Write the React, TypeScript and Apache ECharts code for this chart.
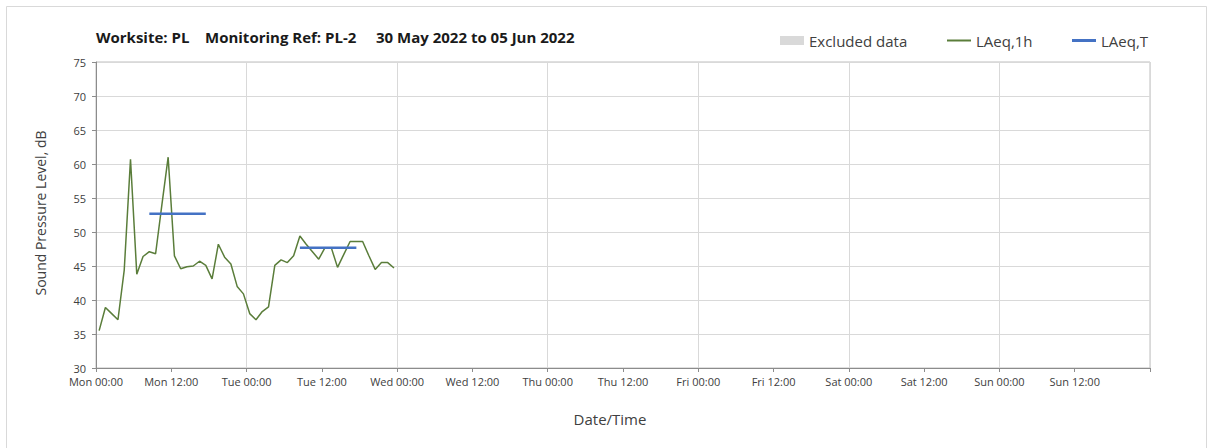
import React, { useEffect, useRef } from 'react';
import * as echarts from 'echarts';

// ---- Data ----
const dayNames = ['Mon', 'Tue', 'Wed', 'Thu', 'Fri', 'Sat', 'Sun'];
const titleParts = ['Worksite: PL', 'Monitoring Ref: PL-2', '30 May 2022 to 05 Jun 2022'];
const legendNames = ['Excluded data', 'LAeq,1h', 'LAeq,T'];
const yAxisTitle = 'Sound Pressure Level, dB';
const xAxisTitle = 'Date/Time';

// hourly LAeq,1h values from Mon 00:00, plotted at the middle of each hour
const laeq1h = [
  35.5, 38.9, 38.0, 37.1, 44.4, 60.7, 43.8, 46.4, 47.1, 46.8, 54.0, 61.0,
  46.5, 44.6, 44.9, 45.0, 45.7, 45.1, 43.1, 48.2, 46.3, 45.3, 42.0, 40.9,
  38.0, 37.1, 38.3, 39.0, 45.1, 45.9, 45.5, 46.5, 49.4, 48.2, 47.1, 46.0,
  47.7, 47.7, 44.8, 46.7, 48.6, 48.6, 48.6, 46.5, 44.5, 45.5, 45.5, 44.7,
];
// LAeq,T periods (hours since Mon 00:00)
const laeqTStart = [8.5, 32.5];
const laeqTEnd = [17.5, 41.5];
const laeqTValue = [52.7, 47.7];

const FONT = 'Open Sans';

export default function App() {
  const ref = useRef<HTMLDivElement>(null);

  useEffect(() => {
    document.body.style.margin = '0';
    if (!ref.current) return;
    const chart = echarts.init(ref.current, undefined, { renderer: 'svg' });

    const lineData = laeq1h.map((v, i) => [i + 0.5, v]);
    const tData: any[] = [];
    laeqTValue.forEach((v, i) => {
      if (i > 0) tData.push([laeqTStart[i] - 1, '-']);
      tData.push([laeqTStart[i], v]);
      tData.push([laeqTEnd[i], v]);
    });

    const axisGrey = '#8c8c8c';
    const gridGrey = '#d9d9d9';
    const labelColor = '#404040';

    const legendBase = {
      orient: 'horizontal',
      top: 28,
      itemWidth: 24,
      selectedMode: false,
      textStyle: { fontFamily: FONT, fontSize: 15, color: '#404040' },
    };

    const titleStyle = {
      fontFamily: FONT,
      fontSize: 15,
      fontWeight: 'bold',
      fill: '#1a1a1a',
      verticalAlign: 'middle',
      align: 'left',
    };

    chart.setOption({
      animation: false,
      backgroundColor: '#ffffff',
      textStyle: { fontFamily: FONT },
      grid: {
        left: 96,
        top: 62,
        width: 1054,
        height: 306,
        show: true,
        borderColor: '#bfbfbf',
        borderWidth: 1,
      },
      legend: [
        {
          ...legendBase,
          left: 775,
          itemHeight: 9,
          data: [{ name: legendNames[0], icon: 'rect' }],
        },
        {
          ...legendBase,
          left: 942,
          itemHeight: 2,
          data: [{ name: legendNames[1], icon: 'rect' }],
        },
        {
          ...legendBase,
          left: 1067,
          itemHeight: 3,
          data: [{ name: legendNames[2], icon: 'rect' }],
        },
      ],
      xAxis: [
        {
          type: 'value',
          min: 0,
          max: 168,
          interval: 12,
          axisLine: { show: true, lineStyle: { color: axisGrey, width: 1 } },
          axisTick: { show: true, length: 4, lineStyle: { color: axisGrey } },
          axisLabel: {
            fontFamily: FONT,
            fontSize: 11,
            color: labelColor,
            margin: 8,
            formatter: (v: number) => {
              if (v >= 168) return '';
              const d = dayNames[Math.floor(v / 24)];
              const h = v % 24 === 0 ? '00' : '12';
              return `${d} ${h}:00`;
            },
          },
          splitLine: { show: false },
        },
        {
          type: 'value',
          min: 0,
          max: 168,
          interval: 24,
          position: 'bottom',
          axisLine: { show: false },
          axisTick: { show: false },
          axisLabel: { show: false },
          splitLine: { show: true, lineStyle: { color: gridGrey, width: 1 } },
        },
      ],
      yAxis: {
        type: 'value',
        min: 30,
        max: 75,
        interval: 5,
        axisLine: { show: true, lineStyle: { color: axisGrey, width: 1 } },
        axisTick: { show: true, length: 4, lineStyle: { color: axisGrey } },
        axisLabel: { fontFamily: FONT, fontSize: 11, color: labelColor, margin: 10 },
        splitLine: { show: true, lineStyle: { color: gridGrey, width: 1 } },
      },
      series: [
        {
          name: legendNames[0],
          type: 'bar',
          xAxisIndex: 0,
          data: [],
          color: '#d9d9d9',
          itemStyle: { color: '#d9d9d9' },
        },
        {
          name: legendNames[1],
          type: 'line',
          xAxisIndex: 0,
          data: lineData,
          color: '#5a7d3a',
          symbol: 'none',
          lineStyle: { color: '#5a7d3a', width: 1.5 },
          z: 3,
        },
        {
          name: legendNames[2],
          type: 'line',
          xAxisIndex: 0,
          data: tData,
          color: '#4472c4',
          symbol: 'none',
          connectNulls: false,
          lineStyle: { color: '#4472c4', width: 2.5 },
          z: 4,
        },
      ],
      graphic: [
        {
          type: 'rect',
          shape: { x: 6.5, y: 6.5, width: 1200, height: 460 },
          style: { fill: 'none', stroke: '#d9d9d9', lineWidth: 1 },
          silent: true,
        },
        { type: 'text', x: 96, y: 37, style: { ...titleStyle, text: titleParts[0] } },
        { type: 'text', x: 205, y: 37, style: { ...titleStyle, text: titleParts[1] } },
        { type: 'text', x: 376, y: 37, style: { ...titleStyle, text: titleParts[2] } },
        {
          type: 'text',
          x: 40,
          y: 213,
          rotation: Math.PI / 2,
          style: {
            text: yAxisTitle,
            fontFamily: FONT,
            fontSize: 14,
            fill: '#404040',
            align: 'center',
            verticalAlign: 'middle',
          },
        },
        {
          type: 'text',
          x: 610,
          y: 419,
          style: {
            text: xAxisTitle,
            fontFamily: FONT,
            fontSize: 15,
            fill: '#404040',
            align: 'center',
            verticalAlign: 'middle',
          },
        },
      ],
    });

    return () => chart.dispose();
  }, []);

  return <div ref={ref} style={{ width: 1208, height: 448 }} />;
}
